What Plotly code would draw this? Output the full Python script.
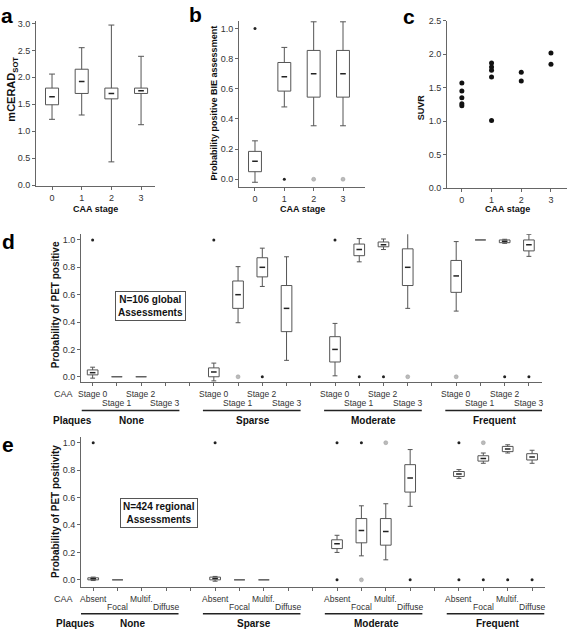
import plotly.graph_objects as go

W, H = 567, 636
FONT = "Liberation Sans, Arial, sans-serif"
LINE = "#666666"
TXT = "#333333"
BOXC = "#555555"

# ---------------- Panel a : mCERAD_SOT by CAA stage ----------------
a_stage = [0, 1, 2, 3]
a_q1 = [1.49, 1.70, 1.60, 1.70]
a_med = [1.64, 1.92, 1.70, 1.75]
a_q3 = [1.80, 2.15, 1.80, 1.80]
a_lo = [1.22, 1.30, 0.43, 1.12]
a_hi = [2.06, 2.55, 2.97, 2.39]

# ---------------- Panel b : probability positive BIE assessment ----------------
b_stage = [0, 1, 2, 3]
b_q1 = [0.05, 0.585, 0.545, 0.545]
b_med = [0.12, 0.68, 0.70, 0.70]
b_q3 = [0.185, 0.775, 0.855, 0.855]
b_lo = [-0.02, 0.48, 0.355, 0.355]
b_hi = [0.255, 0.875, 1.045, 1.045]
b_out_x = [0, 1, 2, 3]
b_out_y = [1.0, 0.0, 0.0, 0.0]
b_out_kind = ["extreme", "extreme", "outlier", "outlier"]

# ---------------- Panel c : SUVR by CAA stage ----------------
c_stage = [0, 0, 0, 0, 0, 1, 1, 1, 1, 1, 2, 2, 3, 3]
c_suvr = [1.57, 1.45, 1.35, 1.26, 1.23, 1.87, 1.81, 1.76, 1.66, 1.01, 1.73, 1.60, 2.02, 1.85]

# ---------------- Panel d : global assessments ----------------
plaques = ["None", "Sparse", "Moderate", "Frequent"]
d_caa = ["Stage 0", "Stage 1", "Stage 2", "Stage 3"]
# order: plaque group x CAA stage (None = no data)
d_q1 = [0.014, 0.0, 0.0, None, 0.0, 0.50, 0.73, 0.33, 0.108, 0.885, 0.95, 0.667, 0.617, 1.0, 0.98, 0.92]
d_med = [0.03, 0.0, 0.0, None, 0.035, 0.60, 0.80, 0.50, 0.20, 0.93, 0.965, 0.80, 0.737, 1.0, 0.99, 0.965]
d_q3 = [0.05, 0.0, 0.0, None, 0.065, 0.70, 0.87, 0.667, 0.293, 0.97, 0.985, 0.935, 0.85, 1.0, 1.0, 1.0]
d_lo = [-0.01, 0.0, 0.0, None, -0.03, 0.395, 0.66, 0.12, 0.007, 0.84, 0.93, 0.50, 0.48, 1.0, 0.975, 0.88]
d_hi = [0.07, 0.0, 0.0, None, 0.10, 0.805, 0.94, 0.877, 0.39, 1.01, 1.007, 1.05, 0.988, 1.0, 1.005, 1.04]
d_out_idx = [0, 4, 5, 6, 8, 9, 10, 11, 12, 14, 15]
d_out_y = [1.0, 1.0, 0.0, 0.0, 1.0, 0.0, 0.0, 0.0, 0.0, 0.0, 0.0]
d_out_kind = ["extreme", "extreme", "outlier", "extreme", "extreme", "extreme", "extreme",
              "outlier", "outlier", "extreme", "extreme"]

# ---------------- Panel e : regional assessments ----------------
e_caa = ["Absent", "Focal", "Multif.", "Diffuse"]
e_q1 = [0.0, 0.0, None, None, 0.0, 0.0, 0.0, None, 0.228, 0.27, 0.253, 0.64, 0.754, 0.866, 0.935, 0.874]
e_med = [0.008, 0.0, None, None, 0.01, 0.0, 0.0, None, 0.263, 0.36, 0.352, 0.742, 0.772, 0.885, 0.955, 0.895]
e_q3 = [0.015, 0.0, None, None, 0.02, 0.0, 0.0, None, 0.292, 0.447, 0.447, 0.84, 0.79, 0.905, 0.973, 0.92]
e_lo = [-0.005, 0.0, None, None, -0.01, 0.0, 0.0, None, 0.20, 0.175, 0.146, 0.536, 0.74, 0.85, 0.925, 0.85]
e_hi = [0.02, 0.0, None, None, 0.025, 0.0, 0.0, None, 0.325, 0.54, 0.555, 0.95, 0.804, 0.925, 0.985, 0.945]
e_out_idx = [0, 4, 8, 8, 9, 9, 10, 11, 12, 12, 13, 13, 14, 15]
e_out_y = [1.0, 1.0, 1.0, 0.0, 1.0, 0.0, 1.0, 0.0, 1.0, 0.0, 1.0, 0.0, 0.0, 0.0]
e_out_kind = ["extreme", "extreme", "extreme", "extreme", "extreme", "outlier", "outlier", "extreme",
              "extreme", "extreme", "outlier", "extreme", "extreme", "extreme"]


def grid_pos(n_groups, n_per):
    """position of each box on the grouped axis (one empty slot between groups)"""
    return [g * (n_per + 1) + s for g in range(n_groups) for s in range(n_per)]


def box_paths(pos, q1, q3, lo, hi, hw, cw):
    xs, ys = [], []
    for p, a, b, l, h in zip(pos, q1, q3, lo, hi):
        if a is None:
            continue
        xs += [p - hw, p + hw, p + hw, p - hw, p - hw, None]
        ys += [a, a, b, b, a, None]
        if h is not None and h > b:
            xs += [p, p, None, p - cw, p + cw, None]
            ys += [b, h, None, h, h, None]
        if l is not None and l < a:
            xs += [p, p, None, p - cw, p + cw, None]
            ys += [a, l, None, l, l, None]
    return xs, ys


fig = go.Figure()


def add_boxes(xa, ya, pos, q1, med, q3, lo, hi, hw=0.22, cw=0.1):
    xs, ys = box_paths(pos, q1, q3, lo, hi, hw, cw)
    fig.add_trace(go.Scatter(x=xs, y=ys, mode="lines", xaxis=xa, yaxis=ya,
                             line=dict(color=BOXC, width=1), hoverinfo="skip", showlegend=False))
    mx = [p for p, a, b, m in zip(pos, q1, q3, med) if a is not None and b > a]
    my = [m for p, a, b, m in zip(pos, q1, q3, med) if a is not None and b > a]
    fig.add_trace(go.Scatter(x=mx, y=my, mode="markers", xaxis=xa, yaxis=ya,
                             marker=dict(symbol="line-ew", size=4, line=dict(color="#222", width=1.5)),
                             hoverinfo="skip", showlegend=False))


def add_outliers(xa, ya, xs, ys, kinds):
    ex = [(x, y) for x, y, k in zip(xs, ys, kinds) if k == "extreme"]
    ol = [(x, y) for x, y, k in zip(xs, ys, kinds) if k == "outlier"]
    if ex:
        fig.add_trace(go.Scatter(x=[p[0] for p in ex], y=[p[1] for p in ex], mode="markers",
                                 xaxis=xa, yaxis=ya, marker=dict(size=3, color="#222"),
                                 cliponaxis=False, showlegend=False))
    if ol:
        fig.add_trace(go.Scatter(x=[p[0] for p in ol], y=[p[1] for p in ol], mode="markers",
                                 xaxis=xa, yaxis=ya,
                                 marker=dict(size=4, color="#bbbbbb", line=dict(color="#999", width=0.5)),
                                 cliponaxis=False, showlegend=False))


# panel a
add_boxes("x", "y", a_stage, a_q1, a_med, a_q3, a_lo, a_hi)
# panel b
add_boxes("x2", "y2", b_stage, b_q1, b_med, b_q3, b_lo, b_hi)
add_outliers("x2", "y2", b_out_x, b_out_y, b_out_kind)
# panel c
fig.add_trace(go.Scatter(x=c_stage, y=c_suvr, mode="markers", xaxis="x3", yaxis="y3",
                         marker=dict(size=5, color="#111"), cliponaxis=False, showlegend=False))
# panel d
d_pos = grid_pos(len(plaques), len(d_caa))
add_boxes("x4", "y4", d_pos, d_q1, d_med, d_q3, d_lo, d_hi)
add_outliers("x4", "y4", [d_pos[i] for i in d_out_idx], d_out_y, d_out_kind)
# panel e
e_pos = grid_pos(len(plaques), len(e_caa))
add_boxes("x5", "y5", e_pos, e_q1, e_med, e_q3, e_lo, e_hi)
add_outliers("x5", "y5", [e_pos[i] for i in e_out_idx], e_out_y, e_out_kind)


def dx(px0, px1):
    return [px0 / W, px1 / W]


def dy(top, bottom):
    return [1 - bottom / H, 1 - top / H]


axis_common = dict(showline=True, linecolor=LINE, linewidth=1, ticks="outside", ticklen=3,
                   tickcolor=LINE, showgrid=False, zeroline=False,
                   tickfont=dict(family=FONT, size=9, color=TXT))

n_slots = len(plaques) * (len(d_caa) + 1) - 1
fig.update_layout(
    width=W, height=H, margin=dict(l=0, r=0, t=0, b=0),
    paper_bgcolor="white", plot_bgcolor="white", showlegend=False,
    xaxis=dict(domain=dx(36, 155), range=[-0.54, 3.47], tickvals=a_stage, anchor="y", **axis_common),
    yaxis=dict(domain=dy(16, 184), range=[-0.02, 3.05], tickvals=[0, 0.5, 1, 1.5, 2, 2.5, 3],
               tickformat=".1f", anchor="x", **axis_common),
    xaxis2=dict(domain=dx(239, 365), range=[-0.545, 3.75], tickvals=b_stage, anchor="y2", **axis_common),
    yaxis2=dict(domain=dy(16, 185), range=[-0.052, 1.052], tickvals=[0, 0.2, 0.4, 0.6, 0.8, 1.0],
                tickformat=".1f", anchor="x2", **axis_common),
    xaxis3=dict(domain=dx(447, 567), range=[-0.5, 3.54], tickvals=[0, 1, 2, 3], anchor="y3", **axis_common),
    yaxis3=dict(domain=dy(16, 186), range=[0, 2.5], tickvals=[0, 0.5, 1, 1.5, 2, 2.5],
                tickformat=".1f", anchor="x3", **axis_common),
    xaxis4=dict(domain=dx(81, 542), range=[-0.48, n_slots - 1 + 0.54], tickvals=list(range(n_slots)),
                showticklabels=False, anchor="y4", **axis_common),
    yaxis4=dict(domain=dy(233, 383), range=[-0.038, 1.041], tickvals=[0, 0.2, 0.4, 0.6, 0.8, 1.0],
                tickformat=".1f", anchor="x4", **axis_common),
    xaxis5=dict(domain=dx(81, 545), range=[-0.5, n_slots - 1 + 0.53], tickvals=list(range(n_slots)),
                showticklabels=False, anchor="y5", **axis_common),
    yaxis5=dict(domain=dy(439, 591), range=[-0.05, 1.041], tickvals=[0, 0.2, 0.4, 0.6, 0.8, 1.0],
                tickformat=".1f", anchor="x5", **axis_common),
)

ann = []


def txt(x, y, text, size=9, bold=False, angle=0, xref="paper", color=TXT, **kw):
    t = f"<b>{text}</b>" if bold else text
    ann.append(dict(x=x if xref != "paper" else x / W, y=1 - y / H, xref=xref, yref="paper",
                    text=t, showarrow=False, textangle=angle, xanchor="center", yanchor="middle",
                    font=dict(family=FONT, size=size, color=color), **kw))


# panel letters
for letter, x, y in [("a", 7, 11), ("b", 195, 10), ("c", 409, 12), ("d", 8, 240), ("e", 8, 447)]:
    txt(x, y, letter, size=21, bold=True, color="#000")

# axis titles
txt(12, 86, "mCERAD<sub>SOT</sub>", size=11, bold=True, angle=-90, color="#111")
txt(214, 100, "Probability positive BIE assessment", size=9, bold=True, angle=-90, color="#111")
txt(421, 104, "SUVR", size=9, bold=True, angle=-90, color="#111")
for xc in [95.5, 302, 507]:
    txt(xc, 207, "CAA stage", size=9, bold=True, color="#111")
txt(55, 305, "Probability of PET positive", size=10, bold=True, angle=-90, color="#111")
txt(56, 515, "Probability of PET positivity", size=10, bold=True, angle=-90, color="#111")

# boxed notes
txt(150, 306, "N=106 global<br>Assessments", size=10, bold=True, color="#111",
    bordercolor="#555", borderwidth=1, borderpad=2, bgcolor="white")
txt(158.5, 516, "N=424 regional<br>Assessments", size=10, bold=True, color="#111",
    bordercolor="#555", borderwidth=1, borderpad=2, bgcolor="white")

# category rows under panels d and e
shapes = []
for xa, pos, labs, row1, row2, uline, prow, lo_off, hi_off in [
        ("x4", d_pos, d_caa, 395, 404, 412, 422, -0.45, 3.58),
        ("x5", e_pos, e_caa, 603, 612, 618.5, 628, -0.5, 3.5)]:
    txt(63.5, row1, "CAA", size=9)
    for i, p in enumerate(pos):
        lab = labs[i % len(labs)]
        txt(p, row1 if (i % 2 == 0) else row2, lab, size=8.5, xref=xa)
    txt(72 if xa == "x4" else 75, prow, "Plaques", size=10, bold=True, color="#111")
    for g, name in enumerate(plaques):
        start = pos[g * len(labs)]
        shapes.append(dict(type="line", xref=xa, yref="paper", x0=start + lo_off, x1=start + hi_off,
                           y0=1 - uline / H, y1=1 - uline / H, line=dict(color="#222", width=1.5)))
        txt(start + 1.6, prow, name, size=10, bold=True, xref=xa, color="#111")

fig.update_layout(annotations=ann, shapes=shapes)
fig.write_html("out.html", config={"displayModeBar": False},
               post_script="document.body.style.margin='0';document.body.style.overflow='hidden';")
